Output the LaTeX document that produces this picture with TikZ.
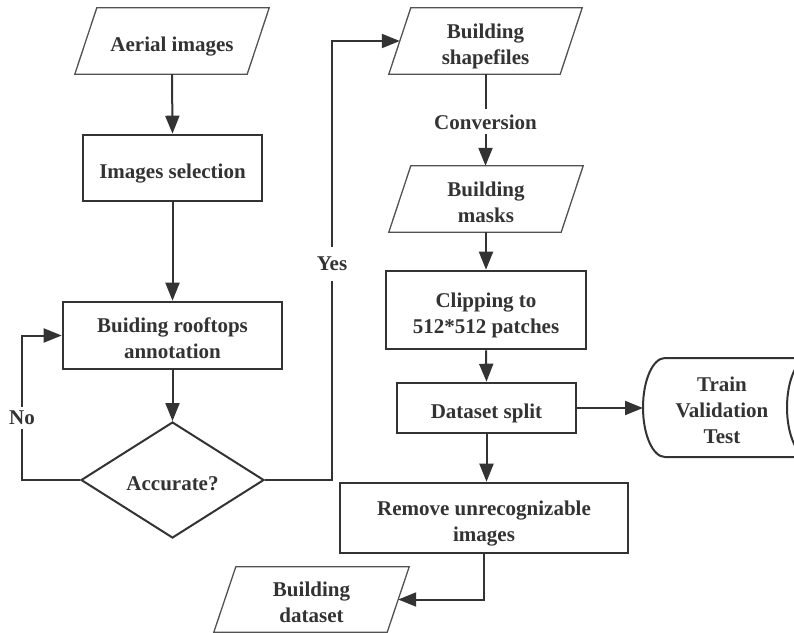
\documentclass[tikz,border=0pt]{standalone}
\usepackage{fontspec}
\setmainfont{Liberation Serif}
\usetikzlibrary{arrows.meta,shapes.geometric,calc}
\definecolor{ink}{HTML}{333333}
\newcommand{\TS}{\rule{0pt}{26pt}}
\newcommand{\BS}{\rule[-6pt]{0pt}{6pt}}
\tikzset{
 base/.style={font=\fontsize{21}{26}\selectfont\bfseries, text=ink, align=center, inner sep=0pt},
 procbox/.style={base, draw=ink, line width=2.6pt, rectangle},
 iobox/.style={base, rectangle, draw=none},
 decbox/.style={base, diamond, aspect=1.6, draw=ink, line width=2pt, minimum width=183pt, minimum height=116pt},
 conn/.style={draw=ink, line width=2pt},
 arr/.style={conn, -{Triangle[length=18pt,width=14pt]}},
 lbl/.style={base, fill=white, inner xsep=2pt},
 para/.style={draw=ink!85, line width=1.3pt},
}
\newcommand{\parabox}[1]{\draw[para] ($(#1.south west)+(-11,0)$) -- ($(#1.south east)+(-11,0)$) -- ($(#1.north east)+(11,0)$) -- ($(#1.north west)+(11,0)$) -- cycle;}
\begin{document}
\begin{tikzpicture}[x=1pt,y=-1pt]
\useasboundingbox (0,0) rectangle (794,632);
\fill[white] (0,0) rectangle (794,632);
% nodes
\node[iobox, minimum width=172pt, minimum height=66pt] (ai) at (172,41) {\TS Aerial images\BS};
\node[procbox, minimum width=179pt, minimum height=66pt] (sel) at (172.5,168) {\TS Images selection\BS};
\node[procbox, minimum width=219pt, minimum height=67pt] (ann) at (172.5,335.5) {\TS Buiding rooftops\\annotation\BS};
\node[decbox] (acc) at (172.5,480) {\TS Accurate?\BS};
\node[iobox, minimum width=171pt, minimum height=66pt] (shp) at (485.5,41) {\TS Building\\shapefiles\BS};
\node[iobox, minimum width=172pt, minimum height=66pt] (msk) at (486,199) {\TS Building\\masks\BS};
\node[procbox, minimum width=200pt, minimum height=78pt] (clp) at (486,310) {\TS Clipping to\\512*512 patches\BS};
\node[procbox, minimum width=179pt, minimum height=50pt] (spl) at (486.5,408) {\TS Dataset split\BS};
\node[procbox, minimum width=288pt, minimum height=70pt] (rem) at (484,518) {\TS Remove unrecognizable\\images\BS};
\node[iobox, minimum width=173pt, minimum height=65pt] (dst) at (311.5,599.5) {\TS Building\\dataset\BS};
\node[base] (tvt) at (722,407) {\TS Train\\Validation\\Test\BS};
\coordinate (cylw) at (643,408);
\coordinate (nocorner) at (22,480);
\coordinate (yescorner) at (332,480);
% parallelograms
\parabox{ai}
\parabox{shp}
\parabox{msk}
\parabox{dst}
% cylinder
\begin{scope}
\clip (0,0) rectangle (794,632);
\draw[conn] (809,358) -- (665,358) arc[start angle=270, end angle=90, x radius=22, y radius=49.5] -- (809,457);
\draw[conn] (809,407.5) ellipse [x radius=22, y radius=49.5];
\end{scope}
% connectors
\draw[arr] (ai.south) -- (sel.north);
\draw[arr] (sel.south) -- (ann.north);
\draw[arr] (ann.south) -- (acc.north);
\draw[arr] (acc.west) -- (nocorner) |- node[lbl, inner ysep=4pt, pos=0.215] {No} (ann.west);
\draw[arr] (acc.east) -- (yescorner) |- node[lbl, inner ysep=10pt, pos=0.246] {Yes} (shp.west);
\draw[arr] (shp.south) -- node[lbl, inner ysep=5pt, pos=0.52] {Conversion} (shp.south |- msk.north);
\draw[arr] (msk.south) -- (clp.north);
\draw[arr] (clp.south) -- (spl.north);
\draw[arr] (spl.east) -- (cylw);
\draw[arr] (spl.south) -- (spl.south |- rem.north);
\draw[arr] (rem.south) |- (dst.east);
\end{tikzpicture}
\end{document}
